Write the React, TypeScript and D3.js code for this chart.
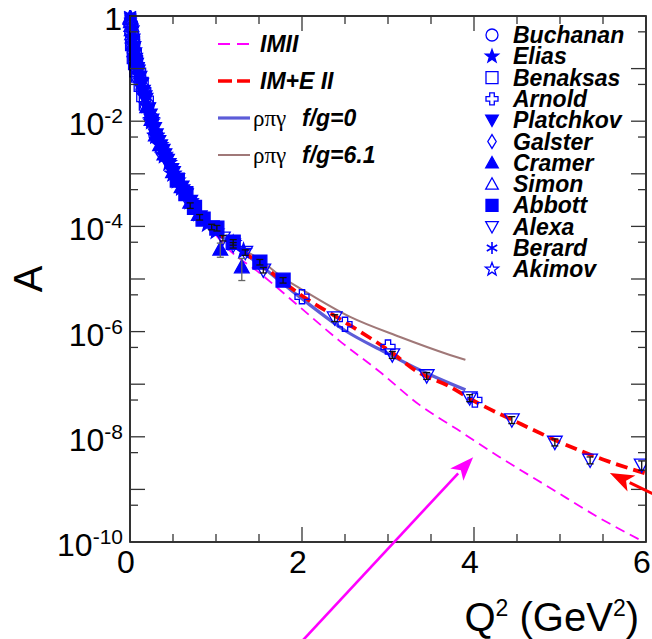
import React from "react";
import * as d3 from "d3";

// ---- data: deuteron structure function A(Q^2) ----
type Pt = [number, number, number?]; // Q2 (GeV^2), A, relative error

const BERARD: Pt[] = [[0.001, 1.05], [0.002, 1.0], [0.004, 0.95], [0.006, 0.9], [0.008, 0.86], [0.011, 0.8]];
const SIMON: Pt[] = [[0.003, 0.95], [0.005, 0.9], [0.01, 0.78], [0.015, 0.66], [0.02, 0.55], [0.025, 0.46], [0.03, 0.4], [0.04, 0.3], [0.05, 0.22]];
const GALSTER: Pt[] = [[0.01, 0.74], [0.02, 0.52], [0.03, 0.36], [0.04, 0.26], [0.06, 0.15], [0.08, 0.1], [0.1, 0.078], [0.12, 0.062]];
const BENAKSAS: Pt[] = [[0.03, 0.3], [0.05, 0.17], [0.065, 0.13], [0.08, 0.095], [0.1, 0.075], [0.13, 0.05], [0.16, 0.032], [0.19, 0.022]];
const BUCHANAN: Pt[] = [[0.01, 0.7], [0.02, 0.48], [0.035, 0.3], [0.05, 0.2], [0.075, 0.11], [0.1, 0.07], [0.15, 0.04], [0.2, 0.02], [0.25, 0.011], [0.3, 0.0055], [0.38, 0.0027]];
const PLATCHKOV: Pt[] = [
  [0.02, 0.5], [0.03, 0.35], [0.04, 0.25], [0.05, 0.19], [0.06, 0.15], [0.07, 0.12], [0.08, 0.1], [0.09, 0.09],
  [0.11, 0.068], [0.13, 0.05], [0.15, 0.037], [0.17, 0.029], [0.18, 0.026], [0.21, 0.017], [0.23, 0.013],
  [0.25, 0.0105], [0.28, 0.0072], [0.3, 0.0055], [0.33, 0.0041], [0.35, 0.0034], [0.38, 0.0028], [0.4, 0.0023],
  [0.43, 0.0018], [0.45, 0.0015], [0.48, 0.0012], [0.5, 0.00105], [0.55, 0.00078], [0.6, 0.00056], [0.65, 0.0004], [0.7, 0.0003],
];
const ELIAS: Pt[] = [[0.25, 0.0098], [0.3, 0.0052], [0.35, 0.0035], [0.4, 0.0022], [0.45, 0.0016], [0.5, 0.001], [0.55, 7.4e-4], [0.6, 5.5e-4], [0.7, 3.0e-4], [0.8, 1.75e-4], [0.9, 1.1e-4], [1.0, 8.0e-5], [1.2, 4.8e-5], [1.32, 3.4e-5]];
const CRAMER: Pt[] = [[0.2, 0.019], [0.25, 0.0108], [0.3, 0.0055], [0.35, 0.0036], [0.4, 0.0024], [0.5, 0.0011], [0.6, 5.7e-4], [0.7, 2.9e-4], [0.8, 1.7e-4], [1.05, 3.7e-5, 0.3], [1.3, 1.7e-5, 0.45]];
const AKIMOV: Pt[] = [[0.2, 0.02], [0.25, 0.0105], [0.3, 0.0053], [0.4, 0.0023], [0.5, 0.001], [0.6, 5.4e-4], [0.7, 2.95e-4]];
const ABBOTT: Pt[] = [[0.55, 7.6e-4], [0.65, 4.2e-4], [0.75, 2.3e-4], [0.85, 1.38e-4], [1.01, 9.3e-5, 0.12], [1.2, 5.0e-5, 0.12], [1.51, 2.1e-5, 0.12], [1.78, 9.5e-6, 0.12]];
const ALEXA: Pt[] = [
  [0.7, 2.5e-4, 0.12], [0.81, 1.5e-4, 0.12], [0.95, 9.8e-5, 0.12], [1.08, 6.0e-5, 0.12], [1.2, 4.4e-5, 0.12],
  [1.34, 3.2e-5, 0.12], [1.55, 1.48e-5, 0.12], [2.38, 1.82e-6, 0.15], [3.05, 3.63e-7, 0.15], [3.45, 1.45e-7, 0.15],
  [3.95, 5.5e-8, 0.15], [4.44, 2.1e-8, 0.15], [4.94, 7.9e-9, 0.15], [5.35, 3.6e-9, 0.15], [5.95, 2.9e-9, 0.2],
];
const ARNOLD: Pt[] = [[2.0, 4.6e-6], [2.5, 1.38e-6], [3.0, 5.1e-7], [4.01, 5.0e-8]];

// ---- theory curves ----
const LOW_Q2 = [0, 0.02, 0.05, 0.1, 0.15, 0.2, 0.3, 0.4, 0.5, 0.6, 0.7, 0.8, 0.9];
const LOW_A = [1, 0.5, 0.178, 0.0794, 0.0372, 0.0191, 5.25e-3, 2.24e-3, 1.05e-3, 5.6e-4, 2.95e-4, 1.74e-4, 1.1e-4];

const IMII_Q2 = [...LOW_Q2.slice(0, 12), 0.9, 1.0, 1.13, 1.51, 2.0, 2.44, 2.9, 3.37, 3.8, 4.3, 4.9, 5.47, 5.92];
const IMII_A = [...LOW_A.slice(0, 12), 1.07e-4, 6.8e-5, 3.9e-5, 1.29e-5, 2.7e-6, 6.6e-7, 1.74e-7, 4.0e-8, 1.4e-8, 4.1e-9, 1.03e-9, 2.8e-10, 1.12e-10];

const IME_Q2 = [...LOW_Q2, 1.0, 1.2, 1.5, 2.0, 2.5, 3.0, 3.37, 3.69, 4.0, 4.5, 5.0, 5.5, 6.0];
const IME_A = [...LOW_A, 7.9e-5, 4.5e-5, 2.0e-5, 4.8e-6, 1.51e-6, 4.5e-7, 1.62e-7, 9.5e-8, 4.8e-8, 1.9e-8, 7.9e-9, 3.7e-9, 2.0e-9];

const RPG0_Q2 = [...LOW_Q2, 1.0, 1.2, 1.5, 2.0, 2.5, 3.0, 3.37, 3.9];
const RPG0_A = [...LOW_A, 7.9e-5, 4.5e-5, 1.9e-5, 4.2e-6, 1.05e-6, 3.8e-7, 1.86e-7, 7.8e-8];

const RPG61_Q2 = [...LOW_Q2, 1.0, 1.2, 1.5, 1.78, 2.0, 2.56, 3.14, 3.72, 3.9];
const RPG61_A = [...LOW_A, 7.9e-5, 4.7e-5, 2.4e-5, 1.05e-5, 6.3e-6, 1.9e-6, 7.9e-7, 3.6e-7, 2.9e-7];

// ---- axis ticks ----
const X_MAJOR = [0, 2, 4, 6];
const X_MINOR = [0.5, 1, 1.5, 2.5, 3, 3.5, 4.5, 5, 5.5];
const Y_DECADES = [0, -1, -2, -3, -4, -5, -6, -7, -8, -9, -10];
const Y_LABEL_EXP = [0, -2, -4, -6, -8, -10];

// ---- arrows (tail, tip) in data coordinates ----
const ARROW_IMII = { from: [2.0, 1.3e-12], to: [3.99, 4.1e-9] };
const ARROW_IME = { from: [6.16, 7.1e-10], to: [5.58, 2.05e-9] };

const BLUE = "#0000ff";
const SANS = "'Liberation Sans', Arial, Helvetica, sans-serif";

type Kind = "circle" | "star" | "square" | "cross" | "tdown" | "diamond" | "tup" | "asterisk";

const EXPERIMENTS: { name: string; kind: Kind; filled: boolean; data: Pt[] }[] = [
  { name: "Buchanan", kind: "circle", filled: false, data: BUCHANAN },
  { name: "Elias", kind: "star", filled: true, data: ELIAS },
  { name: "Benaksas", kind: "square", filled: false, data: BENAKSAS },
  { name: "Arnold", kind: "cross", filled: false, data: ARNOLD },
  { name: "Platchkov", kind: "tdown", filled: true, data: PLATCHKOV },
  { name: "Galster", kind: "diamond", filled: false, data: GALSTER },
  { name: "Cramer", kind: "tup", filled: true, data: CRAMER },
  { name: "Simon", kind: "tup", filled: false, data: SIMON },
  { name: "Abbott", kind: "square", filled: true, data: ABBOTT },
  { name: "Alexa", kind: "tdown", filled: false, data: ALEXA },
  { name: "Berard", kind: "asterisk", filled: false, data: BERARD },
  { name: "Akimov", kind: "star", filled: false, data: AKIMOV },
];

function starPath(R: number, r: number) {
  const pts: string[] = [];
  for (let i = 0; i < 10; i++) {
    const a = -Math.PI / 2 + (i * Math.PI) / 5;
    const rad = i % 2 === 0 ? R : r;
    pts.push(`${(rad * Math.cos(a)).toFixed(2)},${(rad * Math.sin(a)).toFixed(2)}`);
  }
  return "M" + pts.join("L") + "Z";
}

function markerPath(kind: Kind, s: number): string {
  switch (kind) {
    case "circle":
      return `M${-s},0A${s},${s} 0 1,0 ${s},0A${s},${s} 0 1,0 ${-s},0Z`;
    case "star":
      return starPath(s * 1.15, s * 0.47);
    case "square":
      return `M${-s},${-s}H${s}V${s}H${-s}Z`;
    case "cross": {
      const a = s * 0.38;
      return `M${-a},${-s}H${a}V${-a}H${s}V${a}H${a}V${s}H${-a}V${a}H${-s}V${-a}H${-a}Z`;
    }
    case "tdown":
      return `M${-s * 1.05},${-s * 0.85}H${s * 1.05}L0,${s * 1.05}Z`;
    case "tup":
      return `M${-s * 1.05},${s * 0.85}H${s * 1.05}L0,${-s * 1.05}Z`;
    case "diamond":
      return `M0,${-s * 1.15}L${s * 0.7},0L0,${s * 1.15}L${-s * 0.7},0Z`;
    case "asterisk": {
      const c = Math.cos(Math.PI / 6) * s, d = Math.sin(Math.PI / 6) * s;
      return `M0,${-s}V${s}M${-c},${-d}L${c},${d}M${-c},${d}L${c},${-d}`;
    }
  }
}

function Marker({ kind, filled, x, y, s }: { kind: Kind; filled: boolean; x: number; y: number; s: number }) {
  return (
    <path
      d={markerPath(kind, s)}
      transform={`translate(${x},${y})`}
      fill={filled ? BLUE : "none"}
      stroke={BLUE}
      strokeWidth={kind === "asterisk" ? 1.6 : 1.3}
    />
  );
}

export default function App() {
  const x0 = 130, x1 = 646, y0 = 16, y1 = 542;
  const x = d3.scaleLinear().domain([0, 6]).range([x0, x1]);
  const y = d3.scaleLog().domain([1e-10, 1]).range([y1, y0]);

  const line = (qs: number[], as: number[]) =>
    d3
      .line<number>()
      .x((i) => x(qs[i]))
      .y((i) => y(as[i]))
      .curve(d3.curveMonotoneX)(qs.map((_, i) => i)) || "";

  const arrow = (a: { from: number[]; to: number[] }, color: string, w: number, len: number, half: number) => {
    const fx = x(a.from[0]), fy = y(a.from[1]);
    const tx = x(a.to[0]), ty = y(a.to[1]);
    const dx = tx - fx, dy = ty - fy;
    const L = Math.hypot(dx, dy);
    const ux = dx / L, uy = dy / L;
    const bx = tx - ux * len, by = ty - uy * len;
    const px = -uy, py = ux;
    return (
      <g>
        <line x1={fx} y1={fy} x2={bx + ux * 2} y2={by + uy * 2} stroke={color} strokeWidth={w} />
        <path
          d={`M${tx},${ty}L${bx + px * half},${by + py * half}L${bx + ux * len * 0.25},${by + uy * len * 0.25}L${bx - px * half},${by - py * half}Z`}
          fill={color}
        />
      </g>
    );
  };

  const yMinor = Y_DECADES.slice(1).map((e) => 5 * Math.pow(10, e));

  return (
    <svg width={652} height={639} style={{ position: "absolute", left: 0, top: 0 }} fontFamily={SANS}>
      <rect width={652} height={639} fill="white" />
      <defs>
        <clipPath id="plotclip">
          <rect x={x0 - 8} y={y0 - 6} width={x1 - x0 + 8} height={y1 - y0 + 6} />
        </clipPath>
        <clipPath id="curveclip">
          <rect x={x0} y={y0} width={x1 - x0} height={y1 - y0} />
        </clipPath>
      </defs>

      {/* theory curves */}
      <g clipPath="url(#curveclip)" fill="none">
        <path d={line(RPG61_Q2, RPG61_A)} stroke="#a07878" strokeWidth={2} />
        <path d={line(RPG0_Q2, RPG0_A)} stroke="#5c5cd8" strokeWidth={3.2} />
        <path d={line(IME_Q2, IME_A)} stroke="#ff0000" strokeWidth={3.8} strokeDasharray="12,6" />
        <path d={line(IMII_Q2, IMII_A)} stroke="#ff00ff" strokeWidth={1.8} strokeDasharray="10,6" />
      </g>

      {/* data points */}
      <g clipPath="url(#plotclip)">
        {EXPERIMENTS.map((ex) =>
          ex.data.map((p, i) => {
            const cx = x(p[0]), cy = y(p[1]);
            return <Marker key={ex.name + i} kind={ex.kind} filled={ex.filled} x={cx} y={cy} s={7} />;
          })
        )}
        {EXPERIMENTS.map((ex) =>
          ex.data
            .filter((p) => p[2] !== undefined)
            .map((p, i) => {
              const cx = x(p[0]);
              const e = p[2] as number;
              const yt = y(p[1] * (1 + e)), yb = y(p[1] * (1 - e));
              const col = ex.name === "Cramer" ? "#666" : "#111";
              return (
                <g key={ex.name + "e" + i} stroke={col} strokeWidth={1.3}>
                  <line x1={cx} x2={cx} y1={yt} y2={yb} />
                  <line x1={cx - 3.5} x2={cx + 3.5} y1={yt} y2={yt} />
                  <line x1={cx - 3.5} x2={cx + 3.5} y1={yb} y2={yb} />
                </g>
              );
            })
        )}
      </g>

      {/* frame and ticks */}
      <rect x={x0} y={y0} width={x1 - x0} height={y1 - y0} fill="none" stroke="#000" strokeWidth={1.6} />
      <g stroke="#333" strokeWidth={1.3}>
        {X_MAJOR.map((v) => (
          <g key={"xM" + v}>
            <line x1={x(v)} x2={x(v)} y1={y1} y2={y1 - 15} />
            <line x1={x(v)} x2={x(v)} y1={y0} y2={y0 + 15} />
          </g>
        ))}
        {X_MINOR.map((v) => (
          <g key={"xm" + v}>
            <line x1={x(v)} x2={x(v)} y1={y1} y2={y1 - 8} />
            <line x1={x(v)} x2={x(v)} y1={y0} y2={y0 + 8} />
          </g>
        ))}
        {Y_DECADES.map((e) => (
          <g key={"yM" + e}>
            <line x1={x0} x2={x0 + 15} y1={y(Math.pow(10, e))} y2={y(Math.pow(10, e))} />
            <line x1={x1} x2={x1 - 15} y1={y(Math.pow(10, e))} y2={y(Math.pow(10, e))} />
          </g>
        ))}
        {yMinor.map((v, i) => (
          <g key={"ym" + i}>
            <line x1={x0} x2={x0 + 8} y1={y(v)} y2={y(v)} />
            <line x1={x1} x2={x1 - 8} y1={y(v)} y2={y(v)} />
          </g>
        ))}
      </g>

      {/* tick labels */}
      <g fontSize={32} fill="#000">
        {Y_LABEL_EXP.map((e) => {
          const ty = y(Math.pow(10, e)) + 14;
          return e === 0 ? (
            <text key={"yl" + e} x={122} y={ty} textAnchor="end">1</text>
          ) : (
            <text key={"yl" + e} x={123} y={ty} textAnchor="end">
              10<tspan dy={-12} fontSize={21}>{String(e)}</tspan>
            </text>
          );
        })}
        {X_MAJOR.map((v) => (
          <text key={"xl" + v} x={x(v) - 4} y={573} textAnchor="middle">{v}</text>
        ))}
      </g>

      {/* axis titles */}
      <text transform="translate(42,279) rotate(-90)" textAnchor="middle" fontSize={40}>A</text>
      <text x={639} y={631} textAnchor="end" fontSize={40}>
        Q<tspan dy={-15} fontSize={23}>2</tspan>
        <tspan dy={15}> (GeV</tspan>
        <tspan dy={-15} fontSize={23}>2</tspan>
        <tspan dy={15}>)</tspan>
      </text>

      {/* curve legend */}
      <g>
        <line x1={218} x2={250} y1={44} y2={44} stroke="#ff00ff" strokeWidth={2} strokeDasharray="12,7" />
        <text x={260} y={52} fontSize={23} fontWeight="bold" fontStyle="italic">IMII</text>
        <line x1={218} x2={250} y1={81} y2={81} stroke="#ff0000" strokeWidth={3.5} strokeDasharray="14,5" />
        <text x={260} y={89} fontSize={23} fontWeight="bold" fontStyle="italic">IM+E II</text>
        <line x1={218} x2={250} y1={118} y2={118} stroke="#5c5cd8" strokeWidth={3.2} />
        <text x={253} y={126} fontSize={23} fontFamily="'Liberation Serif', 'DejaVu Serif', serif">ρπγ</text>
        <text x={302} y={126} fontSize={23} fontWeight="bold" fontStyle="italic">f/g=0</text>
        <line x1={218} x2={250} y1={155} y2={155} stroke="#a07878" strokeWidth={2} />
        <text x={253} y={163} fontSize={23} fontFamily="'Liberation Serif', 'DejaVu Serif', serif">ρπγ</text>
        <text x={302} y={163} fontSize={23} fontWeight="bold" fontStyle="italic">f/g=6.1</text>
      </g>

      {/* data legend */}
      <g>
        {EXPERIMENTS.map((ex, i) => {
          const ry = 35 + i * 21.3;
          return (
            <g key={"lg" + ex.name}>
              <Marker kind={ex.kind} filled={ex.filled} x={492} y={ry} s={6} />
              <text x={513} y={ry + 8} fontSize={23} fontWeight="bold" fontStyle="italic">{ex.name}</text>
            </g>
          );
        })}
      </g>

      {/* arrows */}
      {arrow(ARROW_IMII, "#ff00ff", 2.6, 24, 9)}
      {arrow(ARROW_IME, "#ff0000", 3, 24, 9)}
    </svg>
  );
}
